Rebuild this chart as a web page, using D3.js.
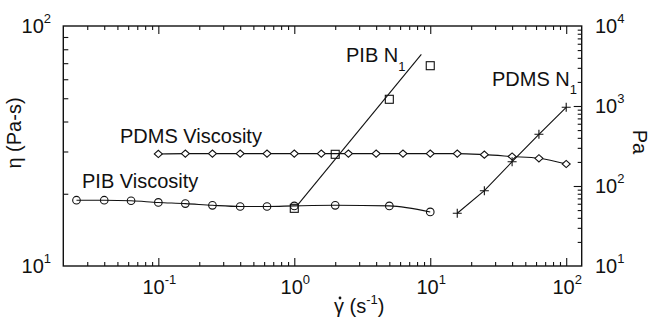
<!DOCTYPE html>
<html>
<head>
<meta charset="utf-8">
<script src="https://cdn.jsdelivr.net/npm/d3@7"></script>
<style>
  body { margin: 0; background: #fff; }
  text { font-family: "Liberation Sans", Arial, Helvetica, sans-serif; fill: #111; }
  .tick line { stroke: #111; }
</style>
</head>
<body>
<script>
var pibViscRate = [0.025, 0.04, 0.063, 0.1, 0.158, 0.25, 0.4, 0.63, 1, 2, 5, 10];
var pibVisc     = [18.8, 18.8, 18.7, 18.4, 18.2, 17.9, 17.7, 17.7, 17.8, 17.9, 17.8, 16.8];

var pdmsViscRate = [0.1, 0.158, 0.25, 0.4, 0.63, 1, 1.58, 2.5, 4, 6.3, 10, 15.8, 25, 40, 63, 100];
var pdmsVisc     = [29.3, 29.4, 29.4, 29.4, 29.4, 29.4, 29.4, 29.4, 29.4, 29.4, 29.4, 29.4, 29.1, 28.6, 28.1, 26.6];

var pibN1Rate = [1, 2, 5, 10];
var pibN1     = [52.6, 249, 1213, 3190];
// power-law fit drawn through the PIB N1 squares
var pibN1FitRate = [1.06, 8.6];
var pibN1Fit     = [58, 4430];

var pdmsN1Rate = [15.8, 25, 40, 63, 100];
var pdmsN1     = [45.6, 87.4, 201, 443, 964];

var xTicks  = [0.1, 1, 10, 100];
var xLabels = [["10", "-1"], ["10", "0"], ["10", "1"], ["10", "2"]];
var yLTicks  = [10, 100];
var yLLabels = [["10", "1"], ["10", "2"]];
var yRTicks  = [10, 100, 1000, 10000];
var yRLabels = [["10", "1"], ["10", "2"], ["10", "3"], ["10", "4"]];

var width = 651, height = 321;
var pLeft = 63.3, pRight = 581.7, pTop = 26, pBottom = 266;

var x  = d3.scaleLog().domain([0.02, 130]).range([pLeft, pRight]);
var yL = d3.scaleLog().domain([10, 100]).range([pBottom, pTop]);
var yR = d3.scaleLog().domain([10, 10000]).range([pBottom, pTop]);

var svg = d3.select("body").append("svg")
    .attr("width", width)
    .attr("height", height);

// minor ticks: 2..9 of every decade inside the domain
function minors(scale) {
    var d = scale.domain(), out = [];
    for (var e = -3; e <= 4; e++) {
        for (var m = 2; m <= 9; m++) {
            var v = m * Math.pow(10, e);
            if (v > d[0] * 1.0001 && v < d[1] * 0.9999) out.push(v);
        }
    }
    return out;
}

function addAxis(axis, tx, ty, size, vals) {
    var g = svg.append("g")
        .attr("transform", "translate(" + tx + "," + ty + ")")
        .call(axis.tickValues(vals).tickSize(size).tickFormat(""));
    g.select(".domain").remove();
    g.selectAll("line").attr("stroke-width", 1.1);
}

// ticks all point inward
addAxis(d3.axisBottom(x), 0, pBottom, -4, minors(x));
addAxis(d3.axisBottom(x), 0, pBottom, -8, xTicks);
addAxis(d3.axisTop(x), 0, pTop, -4, minors(x));
addAxis(d3.axisTop(x), 0, pTop, -8, xTicks);
addAxis(d3.axisLeft(yL), pLeft, 0, -5, minors(yL));
addAxis(d3.axisRight(yR), pRight, 0, -4, minors(yR));
addAxis(d3.axisRight(yR), pRight, 0, -8, yRTicks.slice(1, 3));

// frame
svg.append("rect")
    .attr("x", pLeft).attr("y", pTop)
    .attr("width", pRight - pLeft).attr("height", pBottom - pTop)
    .attr("fill", "none")
    .attr("stroke", "#111")
    .attr("stroke-width", 1.4);

// power-of-ten labels with superscript
function powLabel(px, py, parts, anchor) {
    var t = svg.append("text")
        .attr("x", px).attr("y", py)
        .attr("text-anchor", anchor)
        .style("font-size", "20px");
    t.append("tspan").text(parts[0]);
    t.append("tspan").attr("dy", -10).style("font-size", "13px").text(parts[1]);
    return t;
}

xTicks.forEach(function (v, i) { powLabel(x(v) + 1, 294, xLabels[i], "middle"); });
yLTicks.forEach(function (v, i) { powLabel(51, yL(v) + 7, yLLabels[i], "end"); });
yRTicks.forEach(function (v, i) { powLabel(595, yR(v) + 7, yRLabels[i], "start"); });

// axis titles
svg.append("text")
    .attr("transform", "translate(21,133) rotate(-90)")
    .attr("text-anchor", "middle")
    .style("font-size", "20px")
    .text("\u03b7 (Pa-s)");

svg.append("text")
    .attr("transform", "translate(633,142) rotate(90)")
    .attr("text-anchor", "middle")
    .style("font-size", "20px")
    .text("Pa");

var xt = svg.append("text")
    .attr("x", 334).attr("y", 313)
    .style("font-size", "20px");
xt.append("tspan").text("\u03b3 (s");
xt.append("tspan").attr("dy", -9).style("font-size", "13px").text("-1");
xt.append("tspan").attr("dy", 9).text(")");
// dot over gamma
svg.append("circle").attr("cx", 340).attr("cy", 298).attr("r", 1.4).attr("fill", "#111");

// series
function zip(a, b) { return a.map(function (v, i) { return [v, b[i]]; }); }

var pibV  = zip(pibViscRate, pibVisc);
var pdmsV = zip(pdmsViscRate, pdmsVisc);
var pibN  = zip(pibN1Rate, pibN1);
var pibF  = zip(pibN1FitRate, pibN1Fit);
var pdmsN = zip(pdmsN1Rate, pdmsN1);

var lineL = d3.line().x(function (d) { return x(d[0]); }).y(function (d) { return yL(d[1]); })
    .curve(d3.curveMonotoneX);
var lineR = d3.line().x(function (d) { return x(d[0]); }).y(function (d) { return yR(d[1]); });

[[pibV, lineL], [pdmsV, lineL], [pibF, lineR], [pdmsN, lineR]].forEach(function (s) {
    svg.append("path")
        .datum(s[0])
        .attr("d", s[1])
        .attr("fill", "none")
        .attr("stroke", "#111")
        .attr("stroke-width", 1.1);
});

// markers
svg.append("g").selectAll("circle")
    .data(pibV).enter().append("circle")
    .attr("cx", function (d) { return x(d[0]); })
    .attr("cy", function (d) { return yL(d[1]); })
    .attr("r", 3.8)
    .attr("fill", "none").attr("stroke", "#111").attr("stroke-width", 1.1);

svg.append("g").selectAll("path")
    .data(pdmsV).enter().append("path")
    .attr("transform", function (d) { return "translate(" + x(d[0]) + "," + yL(d[1]) + ")"; })
    .attr("d", "M-4,0L0,-3.6L4,0L0,3.6Z")
    .attr("fill", "#fff").attr("stroke", "#111").attr("stroke-width", 1.1);

svg.append("g").selectAll("rect")
    .data(pibN).enter().append("rect")
    .attr("x", function (d) { return x(d[0]) - 4; })
    .attr("y", function (d) { return yR(d[1]) - 4; })
    .attr("width", 8).attr("height", 8)
    .attr("fill", "none").attr("stroke", "#111").attr("stroke-width", 1.1);

svg.append("g").selectAll("path")
    .data(pdmsN).enter().append("path")
    .attr("transform", function (d) { return "translate(" + x(d[0]) + "," + yR(d[1]) + ")"; })
    .attr("d", "M-4.5,0H4.5M0,-4.5V4.5")
    .attr("stroke", "#111").attr("stroke-width", 1.1);

// series labels
svg.append("text").attr("x", 82).attr("y", 188).style("font-size", "20px").text("PIB Viscosity");
svg.append("text").attr("x", 120).attr("y", 143).style("font-size", "20px").text("PDMS Viscosity");

var t1 = svg.append("text").attr("x", 346).attr("y", 62).style("font-size", "20px");
t1.append("tspan").text("PIB N");
t1.append("tspan").attr("dy", 9).style("font-size", "13px").text("1");

var t2 = svg.append("text").attr("x", 492).attr("y", 86).style("font-size", "20px");
t2.append("tspan").text("PDMS N");
t2.append("tspan").attr("dy", 8).style("font-size", "13px").text("1");
</script>
</body>
</html>
